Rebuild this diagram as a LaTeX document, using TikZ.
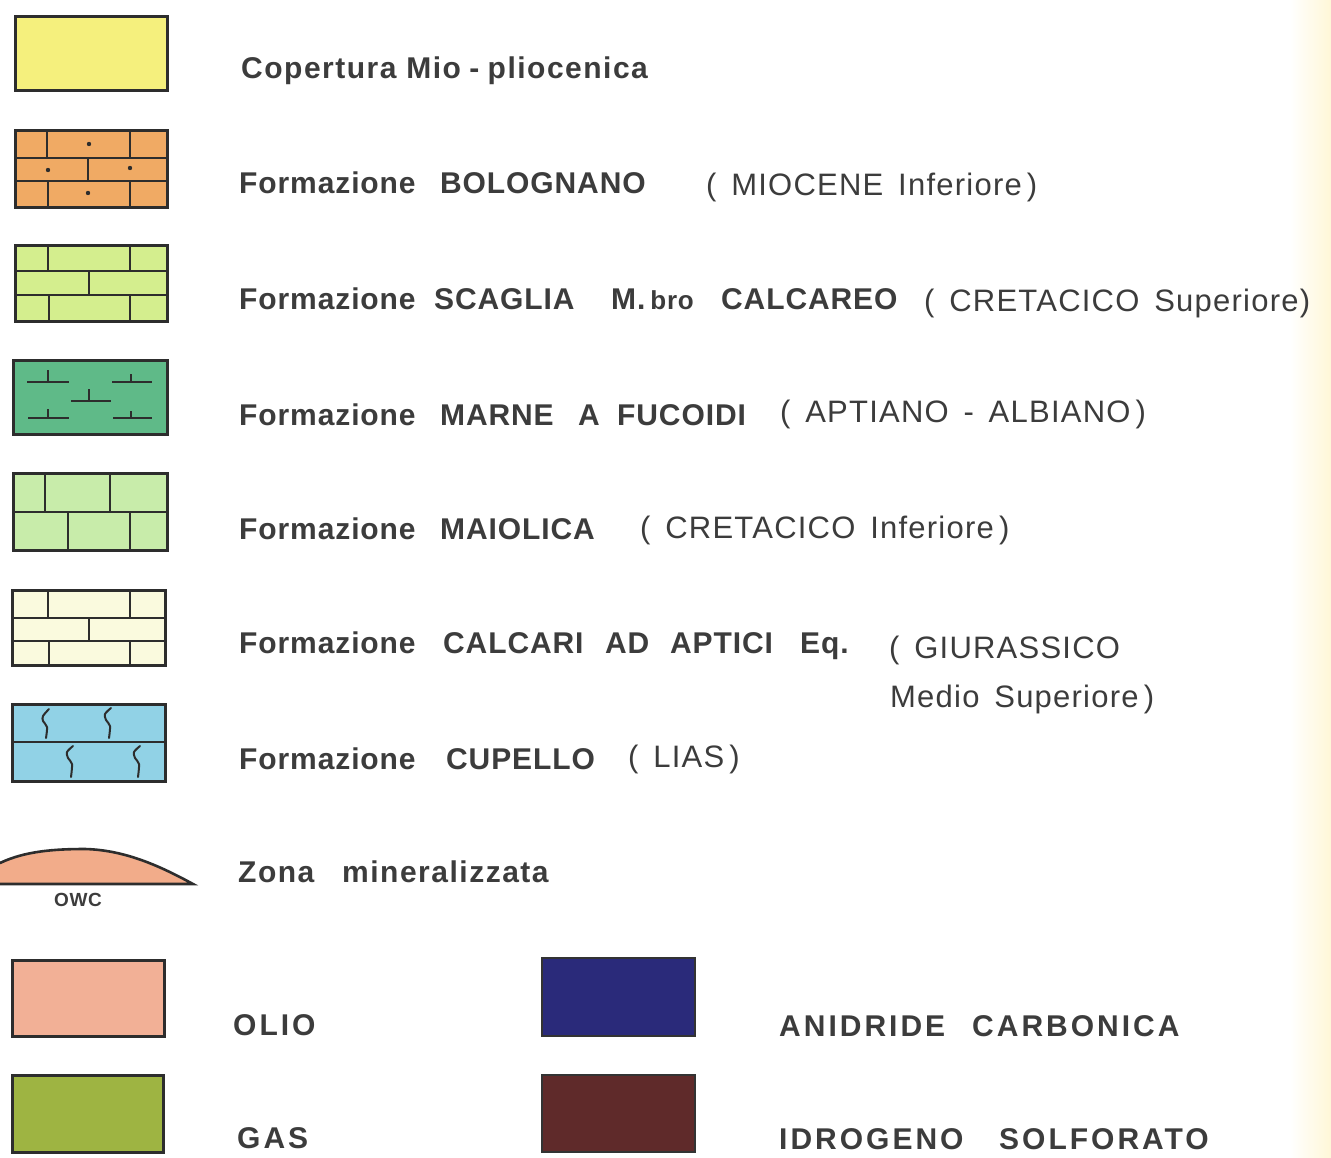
\documentclass[tikz,border=0pt]{standalone}
\usepackage{fontspec}
\setmainfont{Liberation Sans}
\newfontfamily\lb[LetterSpace=3]{Liberation Sans Bold}
\newfontfamily\lbc[LetterSpace=5]{Liberation Sans Bold}
\newfontfamily\lbw[LetterSpace=10]{Liberation Sans Bold}
\newfontfamily\lr[LetterSpace=4,WordSpace=1.5]{Liberation Sans}
\definecolor{txt}{RGB}{60,60,60}
\definecolor{edge}{RGB}{45,45,45}
\definecolor{cYel}{RGB}{245,240,125}
\definecolor{cOra}{RGB}{240,170,100}
\definecolor{cSca}{RGB}{212,238,142}
\definecolor{cMar}{RGB}{95,186,136}
\definecolor{cMai}{RGB}{200,236,170}
\definecolor{cCal}{RGB}{250,250,222}
\definecolor{cCup}{RGB}{145,210,230}
\definecolor{cZon}{RGB}{242,172,138}
\definecolor{cOli}{RGB}{242,176,150}
\definecolor{cGas}{RGB}{158,180,66}
\definecolor{cAni}{RGB}{42,42,122}
\definecolor{cIdr}{RGB}{95,42,42}
\definecolor{tint}{RGB}{255,247,215}
\tikzset{
  box/.style={draw=edge,line width=3pt},
  inner/.style={draw=edge,line width=2.6pt},
  lbl/.style={anchor=base west,inner sep=0pt,text=txt,font=\lb\fontsize{30}{30}\selectfont},
  lblc/.style={anchor=base west,inner sep=0pt,text=txt,font=\lbc\fontsize{30}{30}\selectfont},
  lblw/.style={anchor=base west,inner sep=0pt,text=txt,font=\lbw\fontsize{30}{30}\selectfont},
  lreg/.style={anchor=base west,inner sep=0pt,text=txt,font=\lr\fontsize{31}{31}\selectfont},
}
\begin{document}
\begin{tikzpicture}[x=1pt,y=-1pt]
\useasboundingbox (0,0) rectangle (1331,1157);
\fill[white] (0,0) rectangle (1331,1157);
\shade[left color=white,right color=tint] (1290,0) rectangle (1331,1157);

% 1 Copertura
\draw[box,fill=cYel] (15,16) rectangle (167,90);
\node[lblc] (t1) at (241,78) {Copertura Mio\;-\;pliocenica};

% 2 Bolognano
\draw[box,fill=cOra] (15,130) rectangle (167,207);
\draw[inner] (15,158) -- (167,158) (15,181) -- (167,181)
  (47,130) -- (47,158) (130,130) -- (130,158) (88,158) -- (88,181)
  (48,181) -- (48,207) (130,181) -- (130,207);
\fill[edge] (89,144) circle (2.2) (48,170) circle (2.2) (130,168) circle (2.2) (88,193) circle (2.2);
\draw[box] (15,130) rectangle (167,207);
\node[lbl] (t2a) at (239,193) {Formazione};
\node[lbl] (t2b) at (440,193) {BOLOGNANO};
\node[lreg] (t2c) at (706,195) {( MIOCENE Inferiore\,)};

% 3 Scaglia
\draw[box,fill=cSca] (15,245) rectangle (167,321);
\draw[inner] (15,271) -- (167,271) (15,295) -- (167,295)
  (48,245) -- (48,271) (130,245) -- (130,271) (89,271) -- (89,295)
  (49,295) -- (49,321) (130,295) -- (130,321);
\draw[box] (15,245) rectangle (167,321);
\node[lbl] (t3a) at (239,309) {Formazione};
\node[lbl] (t3b) at (434,309) {SCAGLIA};
\node[lbl] (t3c) at (611,309) {M.\,{\fontsize{26}{26}\selectfont bro}};
\node[lbl] (t3d) at (721,309) {CALCAREO};
\node[lreg] (t3e) at (924,311) {( CRETACICO Superiore)};

% 4 Marne
\draw[box,fill=cMar] (13,360) rectangle (167,434);
\draw[edge,line width=2.2pt]
  (27,382) -- (69,382) (48,370) -- (48,382)
  (112,382) -- (152,382) (131,374) -- (131,382)
  (71,401) -- (111,401) (89,389) -- (89,401)
  (28,418) -- (69,418) (48,409) -- (48,418)
  (113,418) -- (152,418) (131,411) -- (131,418);
\node[lbl] (t4a) at (239,425) {Formazione};
\node[lbl] (t4b) at (440,425) {MARNE};
\node[lbl] (t4c) at (578,425) {A};
\node[lbl] (t4d) at (617,425) {FUCOIDI};
\node[lreg] (t4e) at (780,422) {( APTIANO - ALBIANO\,)};

% 5 Maiolica
\draw[box,fill=cMai] (13,473) rectangle (167,550);
\draw[inner] (13,512) -- (167,512)
  (45,473) -- (45,512) (110,473) -- (110,512)
  (68,512) -- (68,550) (130,512) -- (130,550);
\draw[box] (13,473) rectangle (167,550);
\node[lbl] (t5a) at (239,539) {Formazione};
\node[lbl] (t5b) at (440,539) {MAIOLICA};
\node[lreg] (t5c) at (640,538) {( CRETACICO Inferiore\,)};

% 6 Calcari
\draw[box,fill=cCal] (12,590) rectangle (165,665);
\draw[inner] (12,618) -- (165,618) (12,641) -- (165,641)
  (48,590) -- (48,618) (130,590) -- (130,618) (89,618) -- (89,641)
  (49,641) -- (49,665) (130,641) -- (130,665);
\draw[box] (12,590) rectangle (165,665);
\node[lbl] (t6a) at (239,653) {Formazione};
\node[lbl] (t6b) at (443,653) {CALCARI};
\node[lbl] (t6c) at (605,653) {AD};
\node[lbl] (t6d) at (670,653) {APTICI};
\node[lbl] (t6e) at (800,653) {Eq.};
\node[lreg] (t6f) at (889,658) {( GIURASSICO};
\node[lreg] (t6g) at (890,707) {Medio Superiore\,)};

% 7 Cupello
\draw[box,fill=cCup] (12,704) rectangle (165,781);
\draw[inner] (12,742) -- (165,742);
\draw[edge,line width=2pt,line cap=round]
  plot[smooth] coordinates {(49,709) (43,716) (43,721) (47,727) (46,738)}
  plot[smooth] coordinates {(111,708) (105,714) (106,720) (110,726) (109,738)}
  plot[smooth] coordinates {(73,746) (67,752) (68,758) (72,764) (71,777)}
  plot[smooth] coordinates {(140,746) (134,752) (135,758) (139,764) (138,777)};
\draw[box] (12,704) rectangle (165,781);
\node[lbl] (t7a) at (239,769) {Formazione};
\node[lbl] (t7b) at (446,769) {CUPELLO};
\node[lreg] (t7c) at (628,767) {( LIAS\,)};

% 8 Zona mineralizzata
\fill[cZon] (0,863) .. controls (25,851) and (55,849) .. (85,849)
  .. controls (125,850) and (160,866) .. (193,884) -- (0,884) -- cycle;
\draw[edge,line width=2.6pt,line cap=round]
  (0,863) .. controls (25,851) and (55,849) .. (85,849)
  .. controls (125,850) and (160,866) .. (193,884) -- (0,884);
\node[anchor=base,inner sep=0pt,text=txt,font=\lb\fontsize{19}{19}\selectfont] (owc) at (78,906) {OWC};
\node[lblc] (t8a) at (238,882) {Zona};
\node[lblc] (t8b) at (342,882) {mineralizzata};

% 9-10 fluids
\draw[box,fill=cOli] (12,960) rectangle (164,1036);
\draw[box,fill=cGas] (12,1075) rectangle (163,1152);
\draw[draw=black!80,line width=2pt,fill=cAni] (542,958) rectangle (695,1036);
\draw[draw=black!80,line width=2pt,fill=cIdr] (542,1075) rectangle (695,1152);
\node[lblw] (t9a) at (233,1035) {OLIO};
\node[lblw] (t9b) at (779,1036) {ANIDRIDE};
\node[lblw] (t9c) at (972,1036) {CARBONICA};
\node[lblw] (t10a) at (237,1148) {GAS};
\node[lblw] (t10b) at (779,1149) {IDROGENO};
\node[lblw] (t10c) at (999,1149) {SOLFORATO};
\end{tikzpicture}
\end{document}
